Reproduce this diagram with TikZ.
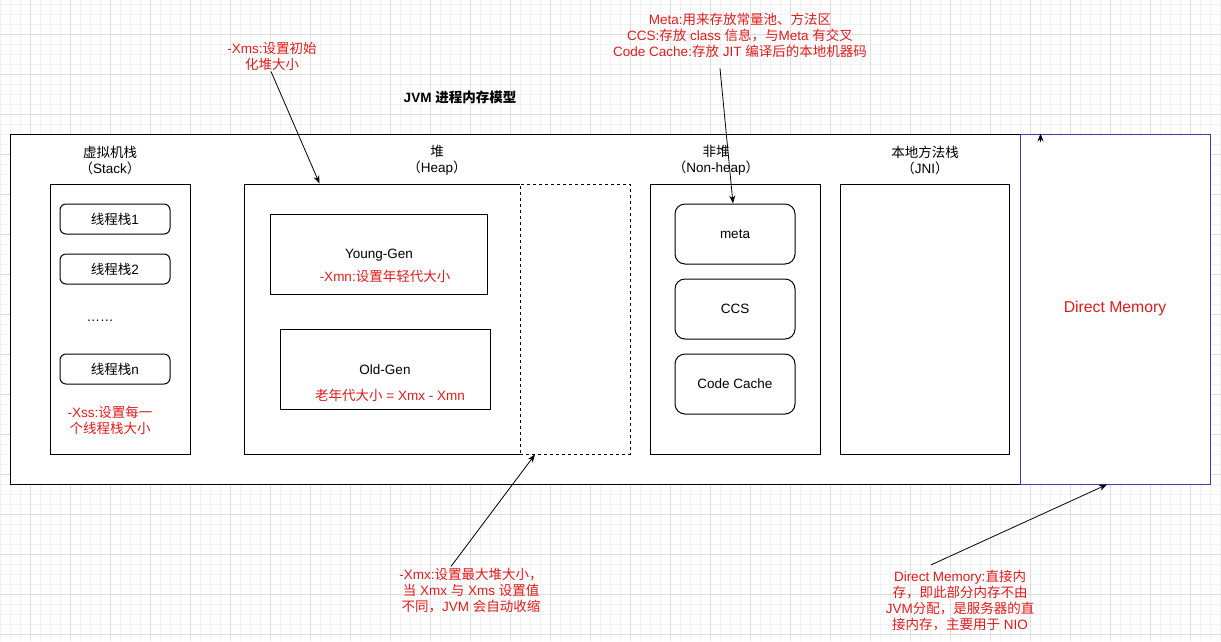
\documentclass[tikz,border=0pt]{standalone}
\usepackage{fontspec}
\setmainfont{Liberation Sans}
\newfontfamily\zh{Noto Sans CJK SC}
\newcommand\z[1]{{\zh #1}}
\usetikzlibrary{arrows.meta}
\definecolor{notered}{HTML}{E01B1B}
\definecolor{dmblue}{HTML}{3C3CB4}
\definecolor{gridmajor}{HTML}{DDDDDD}
\definecolor{gridminor}{HTML}{F2F2F2}

\begin{document}
\begin{tikzpicture}[x=1pt,y=-1pt,
  txt/.style={font=\fontsize{13.5}{16}\selectfont, align=center, inner sep=0pt},
  notetxt/.style={txt, text=notered},
  box/.style={draw=black, line width=1pt, fill=white, inner sep=0pt},
  roundbox/.style={box, rounded corners=6pt},
  conn/.style={-{Stealth[length=8pt,width=6pt]}, line width=0.8pt, black}
]
\useasboundingbox (0,0) rectangle (1221,641);
\fill[white] (0,0) rectangle (1221,641);

% background grid
\foreach \x in {0,10,...,1220} \draw[gridminor, line width=0.6pt] (\x,0) -- (\x,641);
\foreach \y in {4,14,...,640} \draw[gridminor, line width=0.6pt] (0,\y) -- (1221,\y);
\foreach \x in {30,70,...,1210} \draw[gridmajor, line width=0.8pt] (\x,0) -- (\x,641);
\foreach \y in {34,74,...,634} \draw[gridmajor, line width=0.8pt] (0,\y) -- (1221,\y);

% title
\node[txt, font=\fontsize{13.5}{16}\selectfont\bfseries] (title) at (460,97) {JVM \z{进程内存模型}};

% process memory and direct memory
\node[box, minimum width=1010pt, minimum height=350pt] (jvm) at (515,309) {};
\node[box, draw=dmblue, minimum width=190pt, minimum height=350pt] (direct) at (1115,309) {};
\node[notetxt, font=\fontsize{15.75}{18}\selectfont] (directlbl) at (1115,308) {Direct Memory};

% virtual machine stack
\node[txt] (stacklbl) at (110,160.5) {\z{虚拟机栈}\\\z{（}Stack\z{）}};
\node[box, minimum width=140pt, minimum height=270pt] (stack) at (120,319) {};
\node[roundbox, minimum width=110pt, minimum height=30pt] (ts1) at (115,219) {};
\node[txt] at (ts1) {\z{线程栈}1};
\node[roundbox, minimum width=110pt, minimum height=30pt] (ts2) at (115,269) {};
\node[txt] at (ts2) {\z{线程栈}2};
\node[txt] (dots) at (100,321) {……};
\node[roundbox, minimum width=110pt, minimum height=30pt] (tsn) at (115,369) {};
\node[txt] at (tsn) {\z{线程栈}n};
\node[notetxt] (xss) at (110,420.5) {-Xss:\z{设置每一}\\\z{个线程栈大小}};

% heap
\node[txt] (heaplbl) at (437,160.5) {\z{堆}\\\z{（}Heap\z{）}};
\node[box, minimum width=275.5pt, minimum height=270pt] (heap) at (382.25,319) {};
\node[box, dashed, minimum width=110pt, minimum height=270pt] (heapmax) at (575,319) {};
\node[box, minimum width=217pt, minimum height=80pt] (young) at (378.5,254) {};
\node[txt] (younglbl) at (379,255) {Young-Gen};
\node[notetxt] (xmn) at (385,276) {-Xmn:\z{设置年轻代大小}};
\node[box, minimum width=210pt, minimum height=80pt] (old) at (385,369) {};
\node[txt] (oldlbl) at (385,370) {Old-Gen};
\node[notetxt] (oldsize) at (390,395) {\z{老年代大小} = Xmx - Xmn};

% non-heap
\node[txt] (nonheaplbl) at (716,160.5) {\z{非堆}\\\z{（}Non-heap\z{）}};
\node[box, minimum width=170pt, minimum height=270pt] (nonheap) at (735.5,319) {};
\node[roundbox, rounded corners=10pt, minimum width=120pt, minimum height=60pt] (meta) at (735,234) {};
\node[txt] at (meta) {meta};
\node[roundbox, rounded corners=10pt, minimum width=120pt, minimum height=60pt] (ccs) at (735,309) {};
\node[txt] at (ccs) {CCS};
\node[roundbox, rounded corners=10pt, minimum width=120pt, minimum height=60pt] (codecache) at (735,384) {};
\node[txt] at (codecache) {Code Cache};

% native method stack
\node[txt] (jnilbl) at (925,160.5) {\z{本地方法栈}\\\z{（}JNI\z{）}};
\node[box, minimum width=169.3pt, minimum height=270pt] (jni) at (925.3,319) {};

% annotations
\node[notetxt] (xms) at (272,56) {-Xms:\z{设置初始}\\\z{化堆大小}};
\node[notetxt] (metanote) at (740,35) {Meta:\z{用来存放常量池、方法区}\\CCS:\z{存放} class \z{信息，与}Meta \z{有交叉}\\Code Cache:\z{存放} JIT \z{编译后的本地机器码}};
\node[notetxt] (xmx) at (471,591) {-Xmx:\z{设置最大堆大小，}\\\z{当} Xmx \z{与} Xms \z{设置值}\\\z{不同，}JVM \z{会自动收缩}};
\node[notetxt] (dmnote) at (960,600.5) {Direct Memory:\z{直接内}\\\z{存，即此部分内存不由}\\JVM\z{分配，是服务器的直}\\\z{接内存，主要用于} NIO};

% connectors (explicit pt shifts act on the page, where +y points up)
\draw[conn] ([shift={(-1pt,-1pt)}]xms.south) -- ([xshift=75.5pt]heap.north west);
\draw[conn] ([shift={(-20pt,-11pt)}]metanote.south) -- ([xshift=-2pt]meta.north);
\draw[conn] ([shift={(-20pt,2pt)}]xmx.north) -- ([xshift=-40pt]heapmax.south);
\draw[conn] ([shift={(-29pt,5pt)}]dmnote.north) -- ([xshift=-8pt]direct.south);
\coordinate (dmtop) at ([xshift=20pt,yshift=-8pt]jvm.north east);
\draw[conn] (dmtop) -- ([xshift=20pt]jvm.north east);
\end{tikzpicture}
\end{document}
